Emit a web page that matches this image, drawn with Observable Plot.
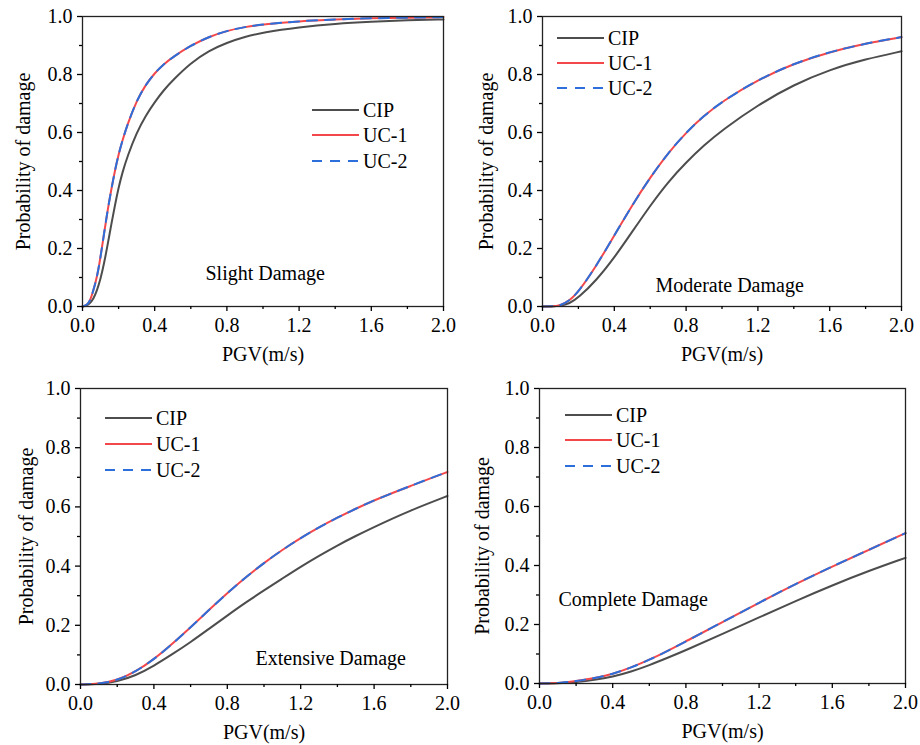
<!DOCTYPE html>
<html><head><meta charset="utf-8">
<script src="https://cdn.jsdelivr.net/npm/d3@7"></script>
<script src="https://cdn.jsdelivr.net/npm/@observablehq/plot@0.6"></script>
<style>
body{margin:0;background:#fff;}
#chart{position:relative;width:920px;height:745px;background:#fff;font-family:"Liberation Serif","Times New Roman",serif;}
.panel{position:absolute;}
.legend{position:absolute;font-size:20px;color:#000;}
.legend .row{position:absolute;left:0;height:24px;display:flex;align-items:center;white-space:nowrap;}
.legend .row span{margin-left:4px;line-height:24px;}
</style></head><body><div id="chart"></div>
<script>
// ---- data ----
const seriesNames = ["CIP", "UC-1", "UC-2"];
const panelTitles = ["Slight Damage", "Moderate Damage", "Extensive Damage", "Complete Damage"];
const xLabel = "PGV(m/s)";
const yLabel = "Probability of damage";
const yMajor = [0, 0.2, 0.4, 0.6, 0.8, 1.0];
const yMinor = [0.1, 0.3, 0.5, 0.7, 0.9];
const xMajor = [0, 0.4, 0.8, 1.2, 1.6, 2.0];
const xMinor = [0.2, 0.6, 1.0, 1.4, 1.8];

// Slight damage
const pgvSlight = [0,0.02,0.04,0.06,0.08,0.10,0.12,0.14,0.16,0.18,0.20,0.22,0.25,0.30,0.35,0.40,0.45,0.50,0.60,0.70,0.80,0.90,1.0,1.2,1.4,1.6,1.8,2.0];
const cipSlight = [0,0.002,0.01,0.025,0.055,0.095,0.15,0.215,0.285,0.35,0.41,0.46,0.52,0.60,0.658,0.705,0.746,0.78,0.84,0.882,0.91,0.93,0.945,0.963,0.975,0.982,0.987,0.99];
const uc1Slight = [0,0.003,0.015,0.055,0.10,0.17,0.255,0.335,0.405,0.47,0.525,0.57,0.63,0.71,0.765,0.805,0.836,0.86,0.90,0.93,0.951,0.964,0.973,0.984,0.99,0.994,0.996,0.998];
const uc2Slight = [0,0.003,0.015,0.055,0.10,0.17,0.255,0.335,0.405,0.47,0.525,0.57,0.63,0.71,0.765,0.805,0.836,0.86,0.90,0.93,0.951,0.964,0.973,0.984,0.99,0.994,0.996,0.998];

// Moderate damage
const pgvModerate = [0,0.05,0.1,0.15,0.2,0.3,0.4,0.5,0.6,0.7,0.8,0.9,1.0,1.2,1.4,1.6,1.8,2.0];
const cipModerate = [0,0,0.002,0.01,0.03,0.09,0.168,0.258,0.348,0.43,0.497,0.556,0.608,0.695,0.765,0.817,0.853,0.88];
const uc1Moderate = [0,0,0.003,0.02,0.05,0.14,0.245,0.35,0.445,0.53,0.60,0.658,0.707,0.782,0.838,0.878,0.907,0.929];
const uc2Moderate = [0,0,0.003,0.02,0.05,0.14,0.245,0.35,0.445,0.53,0.60,0.658,0.707,0.782,0.838,0.878,0.907,0.929];

// Extensive damage
const pgvExtensive = [0,0.1,0.2,0.3,0.4,0.5,0.6,0.7,0.8,0.9,1.0,1.1,1.2,1.3,1.4,1.5,1.6,1.7,1.8,1.9,2.0];
const cipExtensive = [0,0.001,0.01,0.03,0.063,0.102,0.143,0.188,0.233,0.277,0.318,0.358,0.398,0.435,0.47,0.502,0.532,0.561,0.588,0.613,0.637];
const uc1Extensive = [0,0.002,0.014,0.043,0.085,0.137,0.193,0.252,0.309,0.362,0.411,0.455,0.495,0.531,0.564,0.594,0.622,0.647,0.671,0.695,0.718];
const uc2Extensive = [0,0.002,0.014,0.043,0.085,0.137,0.193,0.252,0.309,0.362,0.411,0.455,0.495,0.531,0.564,0.594,0.622,0.647,0.671,0.695,0.718];

// Complete damage
const pgvComplete = [0,0.1,0.2,0.3,0.4,0.5,0.6,0.7,0.8,1.0,1.2,1.4,1.6,1.8,2.0];
const cipComplete = [0,0.0005,0.005,0.012,0.023,0.04,0.062,0.087,0.113,0.168,0.224,0.28,0.333,0.382,0.426];
const uc1Complete = [0,0.001,0.008,0.018,0.032,0.054,0.08,0.11,0.143,0.208,0.274,0.338,0.397,0.453,0.51];
const uc2Complete = [0,0.001,0.008,0.018,0.032,0.054,0.08,0.11,0.143,0.208,0.274,0.338,0.397,0.453,0.51];

// ---- styling ----
const colors = ["#4d4d4d", "#f2484c", "#2c6fdb"];
const FONT = "'Liberation Serif','Times New Roman',serif";
const fmt = d3.format(".1f");

const panels = [
  {pgv: pgvSlight, ys: [cipSlight, uc1Slight, uc2Slight], title: panelTitles[0],
   left: 0, top: 0, w: 460, h: 370, ml: 82, mr: 17, mt: 16, mb: 64,
   tdx: 123, tdy: 257, ydx: -59, ydy: 0,
   legend: {x: 312, y: 110, gap: 25.3}},
  {pgv: pgvModerate, ys: [cipModerate, uc1Moderate, uc2Moderate], title: panelTitles[1],
   left: 460, top: 0, w: 460, h: 370, ml: 82, mr: 19, mt: 16, mb: 64,
   tdx: 113, tdy: 269, ydx: -56, ydy: 0,
   legend: {x: 557, y: 38.3, gap: 25}},
  {pgv: pgvExtensive, ys: [cipExtensive, uc1Extensive, uc2Extensive], title: panelTitles[2],
   left: 0, top: 372, w: 460, h: 373, ml: 80, mr: 13, mt: 16, mb: 61,
   tdx: 175, tdy: 270, ydx: -54, ydy: 0,
   legend: {x: 105, y: 417.7, gap: 26}},
  {pgv: pgvComplete, ys: [cipComplete, uc1Complete, uc2Complete], title: panelTitles[3],
   left: 460, top: 372, w: 460, h: 373, ml: 79, mr: 15, mt: 16, mb: 62,
   tdx: 19, tdy: 211, ydx: -56.5, ydy: 10,
   legend: {x: 565, y: 415, gap: 25.3}}
];

const chart = document.getElementById("chart");

function rows(xs, ys) { return xs.map((x, i) => ({x, y: ys[i]})); }

for (const p of panels) {
  const plot = Plot.plot({
    width: p.w, height: p.h,
    marginLeft: p.ml, marginRight: p.mr, marginTop: p.mt, marginBottom: p.mb,
    x: {domain: [0, 2]},
    y: {domain: [0, 1]},
    style: {fontFamily: FONT, fontSize: "20px", color: "#000", background: "transparent", overflow: "visible"},
    marks: [
      Plot.line(rows(p.pgv, p.ys[0]), {x: "x", y: "y", stroke: colors[0], strokeWidth: 2, curve: "basis"}),
      Plot.line(rows(p.pgv, p.ys[1]), {x: "x", y: "y", stroke: colors[1], strokeWidth: 2, curve: "basis"}),
      Plot.line(rows(p.pgv, p.ys[2]), {x: "x", y: "y", stroke: colors[2], strokeWidth: 2, strokeDasharray: "10,8", curve: "basis"}),
      Plot.frame({stroke: "#222", strokeWidth: 1.3}),
      Plot.axisY({ticks: yMajor, tickFormat: fmt, tickSize: 5, tickPadding: 5, label: null, strokeWidth: 1.3}),
      Plot.axisY({ticks: yMinor, tickFormat: () => "", tickSize: 3, label: null, strokeWidth: 1.3}),
      Plot.axisX({ticks: xMajor, tickFormat: fmt, tickSize: 5, tickPadding: 6, label: null, strokeWidth: 1.3}),
      Plot.axisX({ticks: xMinor, tickFormat: () => "", tickSize: 3, label: null, strokeWidth: 1.3}),
      Plot.text([xLabel], {text: d => d, frameAnchor: "bottom", dy: 48, lineAnchor: "middle", fontSize: 20, fill: "#000"}),
      Plot.text([yLabel], {text: d => d, frameAnchor: "left", rotate: -90, dx: p.ydx, dy: p.ydy, lineAnchor: "middle", textAnchor: "middle", fontSize: 20, fill: "#000"}),
      Plot.text([p.title], {text: d => d, frameAnchor: "top-left", dx: p.tdx, dy: p.tdy, textAnchor: "start", lineAnchor: "middle", fontSize: 20, fill: "#000"})
    ]
  });
  plot.classList.add("panel");
  plot.style.left = p.left + "px";
  plot.style.top = p.top + "px";
  chart.appendChild(plot);

  // legend
  const lg = document.createElement("div");
  lg.className = "legend";
  lg.style.left = p.legend.x + "px";
  lg.style.top = "0px";
  seriesNames.forEach((name, i) => {
    const row = document.createElement("div");
    row.className = "row";
    row.style.top = (p.legend.y + i * p.legend.gap - 12) + "px";
    const dash = i === 2 ? ' stroke-dasharray="10,8"' : '';
    row.innerHTML = `<svg width="47" height="24"><line x1="0" x2="47" y1="12" y2="12" stroke="${colors[i]}" stroke-width="2"${dash}/></svg><span>${name}</span>`;
    lg.appendChild(row);
  });
  chart.appendChild(lg);
}
</script></body></html>
